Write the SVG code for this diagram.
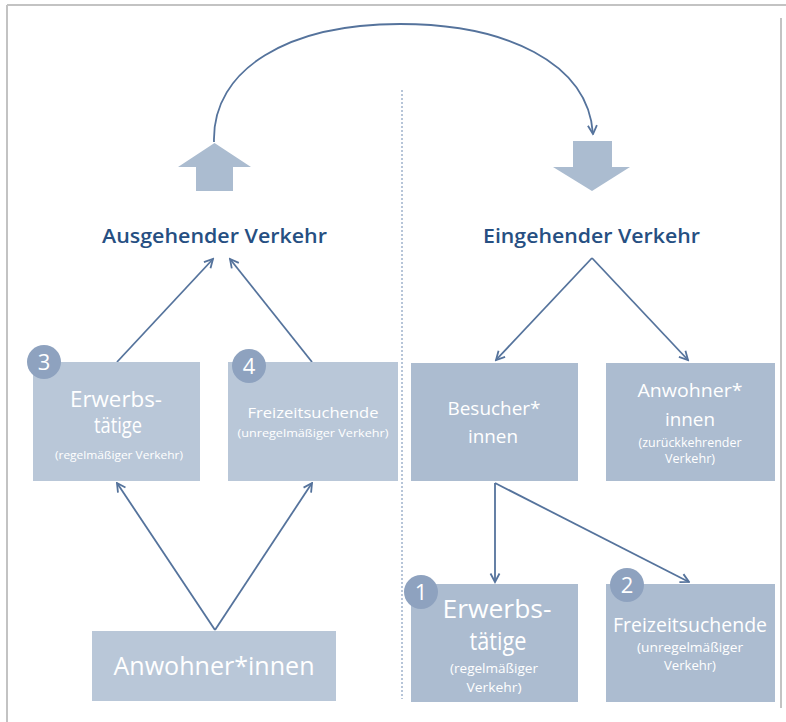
<svg xmlns="http://www.w3.org/2000/svg" width="786" height="722" viewBox="0 0 786 722">
<style>
.frame{stroke:#c3c3c3;stroke-width:2;fill:none}
.boxL{fill:#b9c7d8}
.boxR{fill:#acbcd0}
.badge{fill:#8ea2bf}
.big{fill:#abbcd0}
.t{font-family:"Open Sans","Liberation Sans",sans-serif;fill:#ffffff;text-anchor:middle}
.num{font-family:"Open Sans","Liberation Sans",sans-serif;fill:#ffffff;text-anchor:middle;font-size:22px}
.head{font-family:"Open Sans","Liberation Sans",sans-serif;fill:#264f82;font-weight:600;font-size:19px;text-anchor:middle}
.conn{stroke:#55739c;stroke-width:1.8;fill:none;marker-end:url(#ah)}
.div{stroke:#6f8bb2;stroke-width:1;stroke-dasharray:2,2;fill:none}
</style>
<defs>
<marker id="ah" viewBox="0 0 12 12" refX="10.5" refY="6" markerWidth="12" markerHeight="12" markerUnits="userSpaceOnUse" orient="auto">
<path d="M2,1.5 L10.5,6 L2,10.5" fill="none" stroke="#55739c" stroke-width="1.8"/>
</marker>
</defs>
<rect width="786" height="722" fill="#ffffff"/>
<g id="frame">
<line class="frame" x1="7" y1="5" x2="786" y2="5"/>
<line class="frame" x1="7" y1="5" x2="7" y2="722"/>
<line class="frame" x1="781" y1="18" x2="781" y2="708"/>
</g>
<line id="divider" class="div" x1="402" y1="90" x2="402" y2="699"/>
<g id="connectors">
<path class="conn" d="M214,142 C212,68 290,24 400,24 C505,24 588,62 593,134"/>
<path class="conn" d="M215,630 L117,483"/>
<path class="conn" d="M215,630 L312,483"/>
<path class="conn" d="M117,362 L213,259"/>
<path class="conn" d="M312,362 L230,259"/>
<path class="conn" d="M592,258 L496,360"/>
<path class="conn" d="M592,258 L688,360"/>
<path class="conn" d="M495,483 L495,582"/>
<path class="conn" d="M495,483 L689,582"/>
</g>
<g id="up-arrow"><polygon class="big" points="214.5,143 251,167 233,167 233,191 196,191 196,167 178,167"/></g>
<g id="down-arrow"><polygon class="big" points="573,141 612,141 612,167 630,167 592,191 553,167 573,167"/></g>
<g id="ausgehend"><text class="head" x="214.5" y="243" textLength="225" lengthAdjust="spacingAndGlyphs">Ausgehender Verkehr</text></g>
<g id="eingehend"><text class="head" x="591.5" y="243" textLength="217" lengthAdjust="spacingAndGlyphs">Eingehender Verkehr</text></g>
<g id="erwerb-out">
<rect class="boxL" x="33" y="362" width="167" height="119"/>
<text class="t" x="116" y="407" font-size="21" textLength="92" lengthAdjust="spacingAndGlyphs">Erwerbs-</text>
<text class="t" x="118" y="433" font-size="21" textLength="48" lengthAdjust="spacingAndGlyphs">tätige</text>
<text class="t" x="119" y="459" font-size="11" textLength="128" lengthAdjust="spacingAndGlyphs">(regelmäßiger Verkehr)</text>
<circle class="badge" cx="44" cy="362" r="17"/>
<text class="num" x="44" y="370">3</text>
</g>
<g id="freizeit-out">
<rect class="boxL" x="228" y="362" width="170" height="119"/>
<text class="t" x="313" y="418" font-size="15" textLength="131" lengthAdjust="spacingAndGlyphs">Freizeitsuchende</text>
<text class="t" x="313" y="437" font-size="11" textLength="151" lengthAdjust="spacingAndGlyphs">(unregelmäßiger Verkehr)</text>
<circle class="badge" cx="249" cy="366" r="17"/>
<text class="num" x="249" y="374">4</text>
</g>
<g id="anwohner-out">
<rect class="boxL" x="92" y="631" width="244" height="70"/>
<text class="t" x="214" y="675" font-size="26" textLength="201" lengthAdjust="spacingAndGlyphs">Anwohner*innen</text>
</g>
<g id="besucher">
<rect class="boxR" x="411" y="363" width="167" height="118"/>
<text class="t" x="494" y="415" font-size="18" textLength="93" lengthAdjust="spacingAndGlyphs">Besucher*</text>
<text class="t" x="493" y="443" font-size="18" textLength="50" lengthAdjust="spacingAndGlyphs">innen</text>
</g>
<g id="anwohner-in">
<rect class="boxR" x="606" y="363" width="169" height="118"/>
<text class="t" x="690" y="397" font-size="19" textLength="105" lengthAdjust="spacingAndGlyphs">Anwohner*</text>
<text class="t" x="690" y="426" font-size="19" textLength="50" lengthAdjust="spacingAndGlyphs">innen</text>
<text class="t" x="690" y="447" font-size="12" textLength="103" lengthAdjust="spacingAndGlyphs">(zurückkehrender</text>
<text class="t" x="690" y="463" font-size="12" textLength="50" lengthAdjust="spacingAndGlyphs">Verkehr)</text>
</g>
<g id="erwerb-in">
<rect class="boxR" x="411" y="584" width="167" height="118"/>
<text class="t" x="497" y="618" font-size="25" textLength="109" lengthAdjust="spacingAndGlyphs">Erwerbs-</text>
<text class="t" x="498" y="650" font-size="25" textLength="57" lengthAdjust="spacingAndGlyphs">tätige</text>
<text class="t" x="494" y="673" font-size="12" textLength="88" lengthAdjust="spacingAndGlyphs">(regelmäßiger</text>
<text class="t" x="494" y="692" font-size="12" textLength="55" lengthAdjust="spacingAndGlyphs">Verkehr)</text>
<circle class="badge" cx="421" cy="592" r="17"/>
<text class="num" x="421" y="600">1</text>
</g>
<g id="freizeit-in">
<rect class="boxR" x="606" y="584" width="169" height="118"/>
<text class="t" x="690" y="632" font-size="20" textLength="154" lengthAdjust="spacingAndGlyphs">Freizeitsuchende</text>
<text class="t" x="690" y="652" font-size="12" textLength="106" lengthAdjust="spacingAndGlyphs">(unregelmäßiger</text>
<text class="t" x="690" y="670" font-size="12" textLength="52" lengthAdjust="spacingAndGlyphs">Verkehr)</text>
<circle class="badge" cx="627" cy="585" r="17"/>
<text class="num" x="627" y="593">2</text>
</g>
</svg>
